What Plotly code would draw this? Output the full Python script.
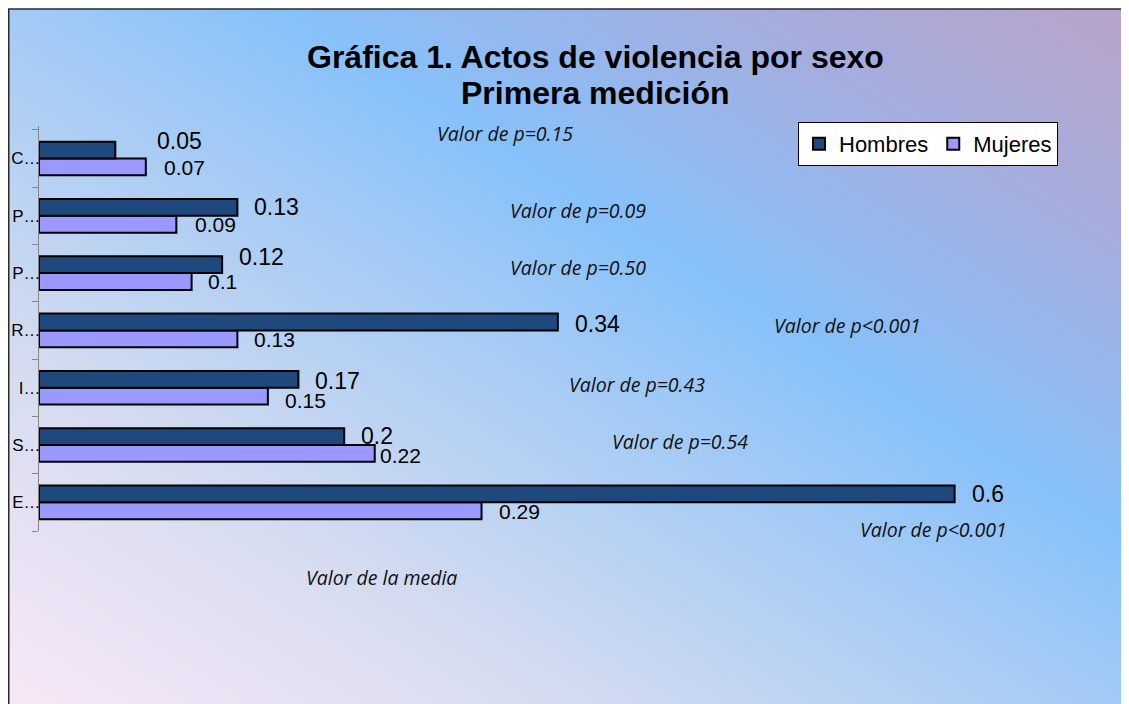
import urllib.parse
import plotly.graph_objects as go

# ---------------- data ----------------
categories = ["C…", "P…", "P…", "R…", "I…", "S…", "E…"]
hombres = [0.05, 0.13, 0.12, 0.34, 0.17, 0.2, 0.6]
mujeres = [0.07, 0.09, 0.1, 0.13, 0.15, 0.22, 0.29]
p_texts = ["Valor de p=0.15", "Valor de p=0.09", "Valor de p=0.50", "Valor de p<0.001",
           "Valor de p=0.43", "Valor de p=0.54", "Valor de p<0.001"]
title_lines = ["Gráfica 1. Actos de violencia por sexo", "Primera medición"]
x_title = "Valor de la media"
series_names = ["Hombres", "Mujeres"]

# ---------------- layout geometry ----------------
# positions are given in page pixels; the page body adds an 8px offset
W, H = 1129, 704
OFF = 8
RL, RR, RT, RB = 39, 1110, 126, 531          # plot area in page pixels
PL, PR, PT, PB = RL - OFF, RR - OFF, RT - OFF, RB - OFF
SCALE = 1526.0
XMAX = (PR - PL) / SCALE

def px_x(px):
    return (px - OFF - PL) / (PR - PL)

def px_y(py):
    return (PB - (py - OFF)) / (PB - PT)

# unique category keys (two labels share the same visible text)
keys = [c + "\u200b" * i for i, c in enumerate(categories)]

C_H = "#1f487c"
C_M = "#9999ff"

fig = go.Figure()
fig.add_trace(go.Bar(
    y=keys, x=mujeres, orientation="h", name=series_names[1], legendrank=2,
    marker=dict(color=C_M, line=dict(color="#000000", width=2)), hoverinfo="x+name"))
fig.add_trace(go.Bar(
    y=keys, x=hombres, orientation="h", name=series_names[0], legendrank=1,
    marker=dict(color=C_H, line=dict(color="#000000", width=2)), hoverinfo="x+name"))

# value labels (offsets in px: dx from bar end, dy relative to bar centre)
h_off = [(40, 9), (15, 0), (15, 8), (15, -2), (15, -2), (15, 1), (15, 0)]
m_off = [(16, 0), (17, 0), (14, 0), (15, -1), (15, -4), (3, -2), (15, -1)]
BAR_HALF = 8.5
annotations = []
for k, v, (dx, dy) in zip(keys, hombres, h_off):
    annotations.append(dict(x=v, y=k, xref="x", yref="y", text=f"{v:g}", showarrow=False,
                            xanchor="left", yanchor="middle", xshift=dx, yshift=BAR_HALF + dy,
                            font=dict(family="Arial, Liberation Sans", size=23, color="#000")))
for k, v, (dx, dy) in zip(keys, mujeres, m_off):
    annotations.append(dict(x=v, y=k, xref="x", yref="y", text=f"{v:g}", showarrow=False,
                            xanchor="left", yanchor="middle", xshift=dx, yshift=-BAR_HALF + dy,
                            font=dict(family="Arial, Liberation Sans", size=21, color="#000")))

p_pos = [(435, 134), (508, 210), (508, 267), (772, 325), (567, 384), (610, 441), (858, 529)]
italic = dict(family="Open Sans", size=19.5, color="#111", style="italic")
for t, (px, py) in zip(p_texts, p_pos):
    annotations.append(dict(x=px_x(px), y=px_y(py), xref="paper", yref="paper", text=t,
                            showarrow=False, xanchor="left", yanchor="middle", font=italic))
annotations.append(dict(x=px_x(304), y=px_y(577), xref="paper", yref="paper", text=x_title,
                        showarrow=False, xanchor="left", yanchor="middle", font=italic))

title_font = dict(family="Arial, Liberation Sans", size=32, color="#000", weight="bold")
for t, py in zip(title_lines, [57, 93]):
    annotations.append(dict(x=px_x(595), y=px_y(py), xref="paper", yref="paper", text=t,
                            showarrow=False, xanchor="center", yanchor="middle", font=title_font))

# gradient background (with chart frame) as an SVG image covering the figure
IW, IH = W, H
svg = (f'<svg xmlns="http://www.w3.org/2000/svg" width="{IW}" height="{IH}" '
       f'viewBox="0 0 {IW} {IH}" preserveAspectRatio="none"><defs>'
       '<linearGradient id="g" x1="0" y1="1" x2="1" y2="0">'
       '<stop offset="0" stop-color="#fae8f7"/>'
       '<stop offset="0.25" stop-color="#d6dcf0"/>'
       '<stop offset="0.5" stop-color="#a2caf5"/>'
       '<stop offset="0.62" stop-color="#87c1fb"/>'
       '<stop offset="0.8" stop-color="#a2afe0"/>'
       '<stop offset="1" stop-color="#b9a2c8"/>'
       '</linearGradient></defs>'
       f'<rect x="0.75" y="1" width="{IW + 10}" height="{IH + 10}" fill="url(#g)" '
       'stroke="#2a2a2a" stroke-width="1.5"/></svg>')
src = "data:image/svg+xml;charset=utf-8," + urllib.parse.quote(svg)

fig.update_layout(
    width=W, height=H,
    margin=dict(l=PL, r=W - PR, t=PT, b=H - PB, pad=0, autoexpand=False),
    paper_bgcolor="#ffffff", plot_bgcolor="rgba(0,0,0,0)",
    barmode="group", bargap=0.413, bargroupgap=0,
    showlegend=True,
    legend=dict(orientation="h", xref="container", yref="container",
                x=(798 - OFF) / W, y=1 - (122 - OFF) / H, xanchor="left", yanchor="top",
                bgcolor="#ffffff", bordercolor="#000000", borderwidth=1,
                font=dict(family="Arial, Liberation Sans", size=22, color="#000")),
    xaxis=dict(range=[0, XMAX], visible=False, showgrid=False, zeroline=False,
               fixedrange=True, automargin=False),
    yaxis=dict(type="category", categoryorder="array", categoryarray=keys[::-1],
               showline=True, linecolor="#868686", linewidth=1, automargin=False,
               ticks="outside", ticklen=6, tickcolor="#868686", tickson="boundaries",
               ticklabelstandoff=-6,
               showgrid=False, zeroline=False,
               tickfont=dict(family="Arial, Liberation Sans", size=17, color="#000")),
    images=[dict(source=src, xref="paper", yref="paper",
                 x=-PL / (PR - PL), y=1 + PT / (PB - PT),
                 sizex=IW / (PR - PL), sizey=IH / (PB - PT),
                 xanchor="left", yanchor="top", sizing="stretch", layer="below")],
    annotations=annotations,
)

fig.write_html("out.html")
